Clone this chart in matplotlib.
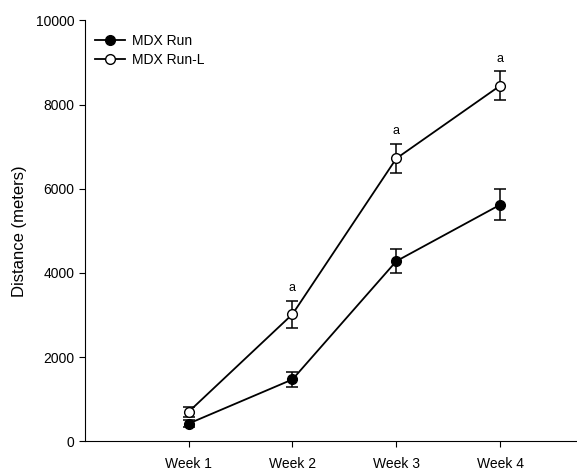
import matplotlib
matplotlib.use("Agg")
import matplotlib.pyplot as plt
from matplotlib.lines import Line2D

plt.rcParams["font.family"] = ["Liberation Sans", "DejaVu Sans"]

weeks = ["Week 1", "Week 2", "Week 3", "Week 4"]
run_mean = [420, 1470, 4280, 5620]
run_err = [90, 170, 280, 370]
runl_mean = [700, 3020, 6720, 8450]
runl_err = [120, 320, 350, 350]
sig_labels = ["", "a", "a", "a"]

fig = plt.figure(figsize=(5.77, 4.75), dpi=100)
ax = fig.add_axes([0.147, 0.071, 0.853, 0.886])

x = list(range(1, len(weeks) + 1))

ax.errorbar(x, run_mean, yerr=run_err, color="black", lw=1.3, marker="o",
            ms=7, mfc="black", mec="black", capsize=4, elinewidth=1.1,
            capthick=1.1, zorder=3)
ax.errorbar(x, runl_mean, yerr=runl_err, color="black", lw=1.3, marker="o",
            ms=7, mfc="white", mec="black", capsize=4, elinewidth=1.1,
            capthick=1.1, zorder=3)

for xi, m, e, s in zip(x, runl_mean, runl_err, sig_labels):
    if s:
        ax.text(xi, m + e + 150, s, ha="center", va="bottom", fontsize=9)

ax.set_xlim(0.0, 4.74)
ax.set_ylim(0, 10000)
ax.set_xticks(x)
ax.set_xticklabels(weeks)
ax.set_yticks(range(0, 10001, 2000))
ax.set_ylabel("Distance (meters)", fontsize=12, labelpad=6)
ax.spines["top"].set_visible(False)
ax.spines["right"].set_visible(False)
ax.tick_params(direction="out", length=4, labelsize=10)
ax.tick_params(axis="x", pad=7)

handles = [
    Line2D([0], [0], color="black", lw=1.3, marker="o", ms=7, mfc="black",
           mec="black", label="MDX Run"),
    Line2D([0], [0], color="black", lw=1.3, marker="o", ms=7, mfc="white",
           mec="black", label="MDX Run-L"),
]
ax.legend(handles=handles, loc="upper left", bbox_to_anchor=(0.0, 0.99),
          frameon=False, fontsize=10, handlelength=2.2, borderaxespad=0.3,
          handletextpad=0.5, labelspacing=0.35)

fig.savefig("out.png", dpi=100)
